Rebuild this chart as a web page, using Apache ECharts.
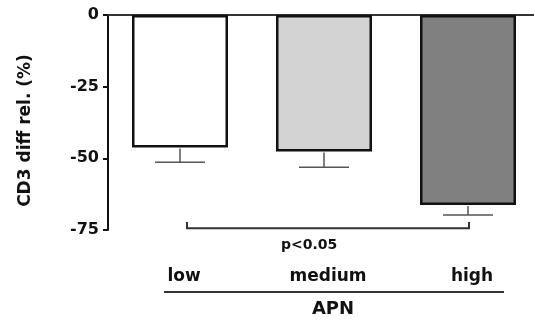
<!DOCTYPE html>
<html>
<head>
<meta charset="utf-8">
<script src="https://cdn.jsdelivr.net/npm/echarts@6/dist/echarts.min.js"></script>
<style>html,body{margin:0;padding:0;background:#fff;}#c{width:534px;height:322px;}</style>
</head>
<body>
<div id="c"></div>
<script>
var categories = ['low', 'medium', 'high'];
var meanValues = [-46.2, -47.6, -66.3];
var errorValues = [5.2, 5.5, 3.5];
var barColors = ['#ffffff', '#d3d3d3', '#808080'];
var yTicks = [0, -25, -50, -75];
var yTitle = 'CD3 diff rel. (%)';
var xTitle = 'APN';
var sigLabel = 'p<0.05';
var bracketFrom = 0, bracketTo = 2, bracketY = -74.4, bracketTickY = -72.2;

var FONT = 'DejaVu Sans';
var chart = echarts.init(document.getElementById('c'), null, {renderer: 'canvas'});

var option = {
  animation: false,
  backgroundColor: '#ffffff',
  grid: {left: 108, width: 432, top: 15, height: 215, containLabel: false, outerBoundsMode: 'none'},
  xAxis: [{
    type: 'category', data: categories, position: 'top',
    axisLine: {show: true, onZero: false, lineStyle: {color: '#333', width: 2}},
    axisTick: {show: false}, axisLabel: {show: false}, splitLine: {show: false}
  }, {
    type: 'category', data: categories, position: 'bottom',
    axisLine: {show: false}, axisTick: {show: false}, splitLine: {show: false},
    axisLabel: {show: true, margin: 38, color: '#111', fontFamily: FONT, fontWeight: 'bold', fontSize: 17, padding: [0, 0, 0, 8]},
    name: xTitle, nameLocation: 'middle', nameGap: 70,
    nameTextStyle: {color: '#111', fontFamily: FONT, fontWeight: 'bold', fontSize: 18, padding: [0, 0, 0, 18]}
  }],
  yAxis: {
    type: 'value', min: yTicks[yTicks.length - 1], max: yTicks[0], interval: 25,
    axisLine: {show: true, lineStyle: {color: '#111', width: 2}},
    axisTick: {show: true, length: 5, lineStyle: {color: '#111', width: 2}},
    axisLabel: {color: '#111', fontFamily: FONT, fontWeight: 'bold', fontSize: 16, margin: 9},
    splitLine: {show: false},
    name: yTitle, nameLocation: 'middle', nameGap: 74, nameRotate: 90,
    nameTextStyle: {color: '#111', fontFamily: FONT, fontWeight: 'bold', fontSize: 17, padding: [0, 16, 0, 0]}
  },
  series: [{
    type: 'bar', xAxisIndex: 0, barWidth: 96,
    data: meanValues.map(function (v, i) {
      return {value: v, itemStyle: {color: barColors[i]}};
    }),
    itemStyle: {borderColor: '#111', borderWidth: 2.5}
  }, {
    type: 'custom', xAxisIndex: 0, clip: false,
    data: meanValues.map(function (v, i) { return [i, v, v - errorValues[i]]; }),
    renderItem: function (params, api) {
      var top = api.coord([api.value(0), api.value(1)]);
      var bot = api.coord([api.value(0), api.value(2)]);
      var hw = 25;
      var st = {stroke: '#555', lineWidth: 1.5};
      return {type: 'group', children: [
        {type: 'line', shape: {x1: top[0], y1: top[1] + 1, x2: bot[0], y2: bot[1]}, style: st},
        {type: 'line', shape: {x1: bot[0] - hw, y1: bot[1], x2: bot[0] + hw, y2: bot[1]}, style: st}
      ]};
    },
    z: 3
  }, {
    type: 'custom', xAxisIndex: 0, clip: false,
    data: [[bracketFrom, bracketTo, bracketY, bracketTickY]],
    renderItem: function (params, api) {
      var a = api.coord([api.value(0), api.value(2)]);
      var b = api.coord([api.value(1), api.value(2)]);
      var t = api.coord([api.value(0), api.value(3)]);
      var x1 = a[0] + 7, x2 = b[0] + 1;
      return {type: 'polyline', shape: {points: [[x1, t[1]], [x1, a[1]], [x2, a[1]], [x2, t[1]]]},
        style: {stroke: '#333', lineWidth: 2, fill: null}};
    }
  }],
  graphic: [
    {type: 'text', left: 281, top: 238, style: {text: sigLabel, fill: '#111', font: 'bold 14px "DejaVu Sans"'}},
    {type: 'line', shape: {x1: 164, y1: 292, x2: 504, y2: 292}, style: {stroke: '#333', lineWidth: 2}}
  ]
};
chart.setOption(option);
</script>
</body>
</html>
